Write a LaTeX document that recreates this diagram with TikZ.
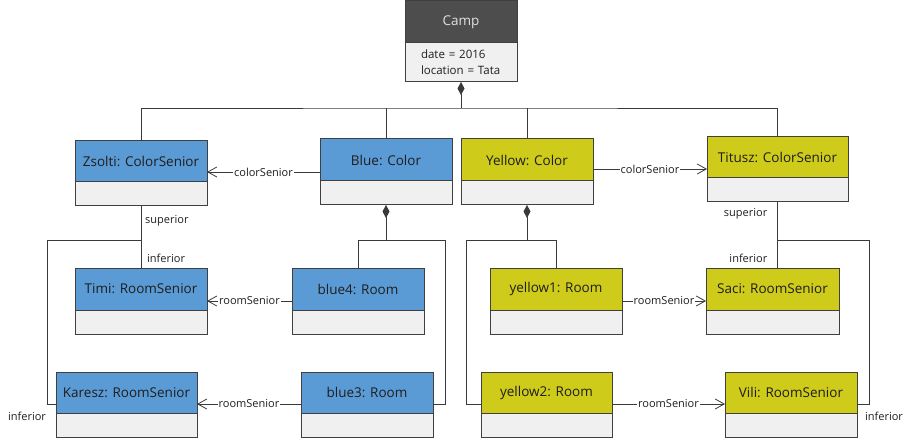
\documentclass[tikz,border=0pt]{standalone}
\usepackage{fontspec}
\setmainfont{Open Sans}
\usepackage{tikz}
\usetikzlibrary{arrows.meta, positioning, calc}
\usepackage{xcolor}
\definecolor{objblue}{HTML}{5B9BD5}
\definecolor{objyellow}{HTML}{CFCB1A}
\definecolor{campgray}{HTML}{4D4D4D}
\definecolor{cmpgray}{HTML}{F0F0F0}
\definecolor{bordergray}{HTML}{404040}
\definecolor{linegray}{HTML}{3A3A3A}
\definecolor{txtdark}{HTML}{1E1E1E}

\tikzset{
  hd/.style={draw=bordergray, line width=1pt, minimum height=42pt, inner sep=0pt, outer sep=0pt,
    anchor=north west, font=\fontsize{13.5}{16}\selectfont, text=txtdark},
  bluehd/.style={hd, fill=objblue},
  yellowhd/.style={hd, fill=objyellow},
  cmp/.style={draw=bordergray, line width=1pt, fill=cmpgray, minimum height=24pt, inner sep=0pt, outer sep=0pt},
  conn/.style={draw=linegray, line width=0.8pt},
  assoc/.style={conn, -{Straight Barb[length=9pt,width=10pt]}},
  owns/.style={conn, -{Diamond[length=13pt,width=7pt]}},
  lbl/.style={fill=white, inner sep=1pt, font=\fontsize{11}{13}\selectfont, text=txtdark},
  role/.style={inner sep=1pt, font=\fontsize{11}{13}\selectfont, text=txtdark},
}

\begin{document}
\begin{tikzpicture}[x=1pt, y=-1pt]
  \useasboundingbox (0,0) rectangle (912,438);
  % camp
  \node[hd, fill=campgray, text=white!88!black, minimum width=112pt] (camp) at (405,1) {Camp};
  \node[cmp, below=0pt of camp, minimum width=112pt, minimum height=39pt, text width=80pt, inner xsep=16pt,
    align=left, font=\fontsize{11.5}{16}\selectfont, text=txtdark] (camp-b) {date = 2016\\location = Tata};
  % colors and color seniors
  \node[bluehd, minimum width=132pt, minimum height=41pt] (zs) at (75,141) {Zsolti: ColorSenior};
  \node[cmp, below=0pt of zs, minimum width=132pt] (zs-b) {};
  \node[bluehd, minimum width=132pt] (bl) at (320,139) {Blue: Color};
  \node[cmp, below=0pt of bl, minimum width=132pt] (bl-b) {};
  \node[yellowhd, minimum width=132pt] (ye) at (461,139) {Yellow: Color};
  \node[cmp, below=0pt of ye, minimum width=132pt] (ye-b) {};
  \node[yellowhd, minimum width=141pt, minimum height=41pt] (ti) at (707,137) {Titusz: ColorSenior};
  \node[cmp, below=0pt of ti, minimum width=141pt] (ti-b) {};
  % rooms and room seniors
  \node[bluehd, minimum width=132pt] (timi) at (75,268) {Timi: RoomSenior};
  \node[cmp, below=0pt of timi, minimum width=132pt] (timi-b) {};
  \node[bluehd, minimum width=132pt] (b4) at (292,268) {blue4: Room};
  \node[cmp, below=0pt of b4, minimum width=132pt] (b4-b) {};
  \node[yellowhd, minimum width=132pt] (y1) at (490,268) {yellow1: Room};
  \node[cmp, below=0pt of y1, minimum width=132pt] (y1-b) {};
  \node[yellowhd, minimum width=133pt] (sa) at (706,268) {Saci: RoomSenior};
  \node[cmp, below=0pt of sa, minimum width=133pt] (sa-b) {};
  \node[bluehd, minimum width=141pt, minimum height=41pt] (ka) at (56,372) {Karesz: RoomSenior};
  \node[cmp, below=0pt of ka, minimum width=141pt] (ka-b) {};
  \node[bluehd, minimum width=132pt, minimum height=41pt] (b3) at (301,372) {blue3: Room};
  \node[cmp, below=0pt of b3, minimum width=132pt] (b3-b) {};
  \node[yellowhd, minimum width=131pt, minimum height=41pt] (y2) at (481,372) {yellow2: Room};
  \node[cmp, below=0pt of y2, minimum width=131pt] (y2-b) {};
  \node[yellowhd, minimum width=132pt, minimum height=41pt] (vi) at (725,372) {Vili: RoomSenior};
  \node[cmp, below=0pt of vi, minimum width=132pt] (vi-b) {};

  % camp composition
  \coordinate (bus) at ([yshift=-26pt]camp-b.south);
  \draw[conn] (zs.north) |- (bus) -| ([xshift=-0.5pt]ti.north);
  \draw[conn] (bl.north) -- (bl.north |- bus);
  \draw[conn] (ye.north) -- (ye.north |- bus);
  \draw[owns] (bus) -- (camp-b.south);

  % blue rooms
  \coordinate (bj) at ([yshift=-35pt]bl-b.south);
  \coordinate (bc) at ([xshift=12pt,yshift=-11.5pt]b3.east);
  \draw[conn] (b4.north) |- (bj -| bc) -- (bc) -- ([yshift=-11.5pt]b3.east);
  \draw[owns] (bj) -- (bl-b.south);
  % yellow rooms
  \coordinate (yj) at ([yshift=-35pt]ye-b.south);
  \coordinate (yc) at ([xshift=-15pt,yshift=-11.5pt]y2.west);
  \draw[conn] (y1.north) |- (yj -| yc) -- (yc) -- ([yshift=-11.5pt]y2.west);
  \draw[owns] (yj) -- (ye-b.south);

  % superior / inferior left
  \coordinate (zj) at ([yshift=-34pt]zs-b.south);
  \coordinate (zc) at ([xshift=-9pt,yshift=-11.5pt]ka.west);
  \draw[conn] (zs-b.south) -- (timi.north);
  \draw[conn] (zj) -| (zc) -- ([yshift=-11.5pt]ka.west);
  \node[role, anchor=west] at ([xshift=3pt,yshift=-15pt]zs-b.south) {superior};
  \node[role, anchor=west] at ([xshift=5pt,yshift=10pt]timi.north) {inferior};
  \node[role] at ([xshift=-20pt,yshift=-12pt]zc) {inferior};
  % superior / inferior right
  \coordinate (tj) at ([yshift=-38pt]ti-b.south);
  \coordinate (tc) at ([xshift=12pt,yshift=-11.5pt]vi.east);
  \draw[conn] (ti-b.south) -- (ti-b.south |- sa.north);
  \draw[conn] (tj) -| (tc) -- ([yshift=-11.5pt]vi.east);
  \node[role, anchor=east] at ([xshift=-9pt,yshift=-12pt]ti-b.south) {superior};
  \node[role, anchor=east] at ([xshift=-9pt,yshift=-56pt]ti-b.south) {inferior};
  \node[role] at ([xshift=15pt,yshift=-12pt]tc) {inferior};

  % color seniors
  \draw[assoc] ([yshift=-12pt]bl.west) -- ([yshift=-10.5pt]zs.east) node[lbl, midway] {colorSenior};
  \draw[assoc] ([yshift=-9pt]ye.east) -- ([yshift=-11.5pt]ti.west) node[lbl, midway] {colorSenior};
  % room seniors
  \draw[assoc] ([yshift=-12pt]b4.west) -- ([yshift=-12pt]timi.east) node[lbl, midway] {roomSenior};
  \draw[assoc] ([yshift=-11.5pt]b3.west) -- ([yshift=-11.5pt]ka.east) node[lbl, midway] {roomSenior};
  \draw[assoc] ([yshift=-12pt]y1.east) -- ([yshift=-12pt]sa.west) node[lbl, midway] {roomSenior};
  \draw[assoc] ([yshift=-11.5pt]y2.east) -- ([yshift=-11.5pt]vi.west) node[lbl, midway] {roomSenior};
\end{tikzpicture}
\end{document}
